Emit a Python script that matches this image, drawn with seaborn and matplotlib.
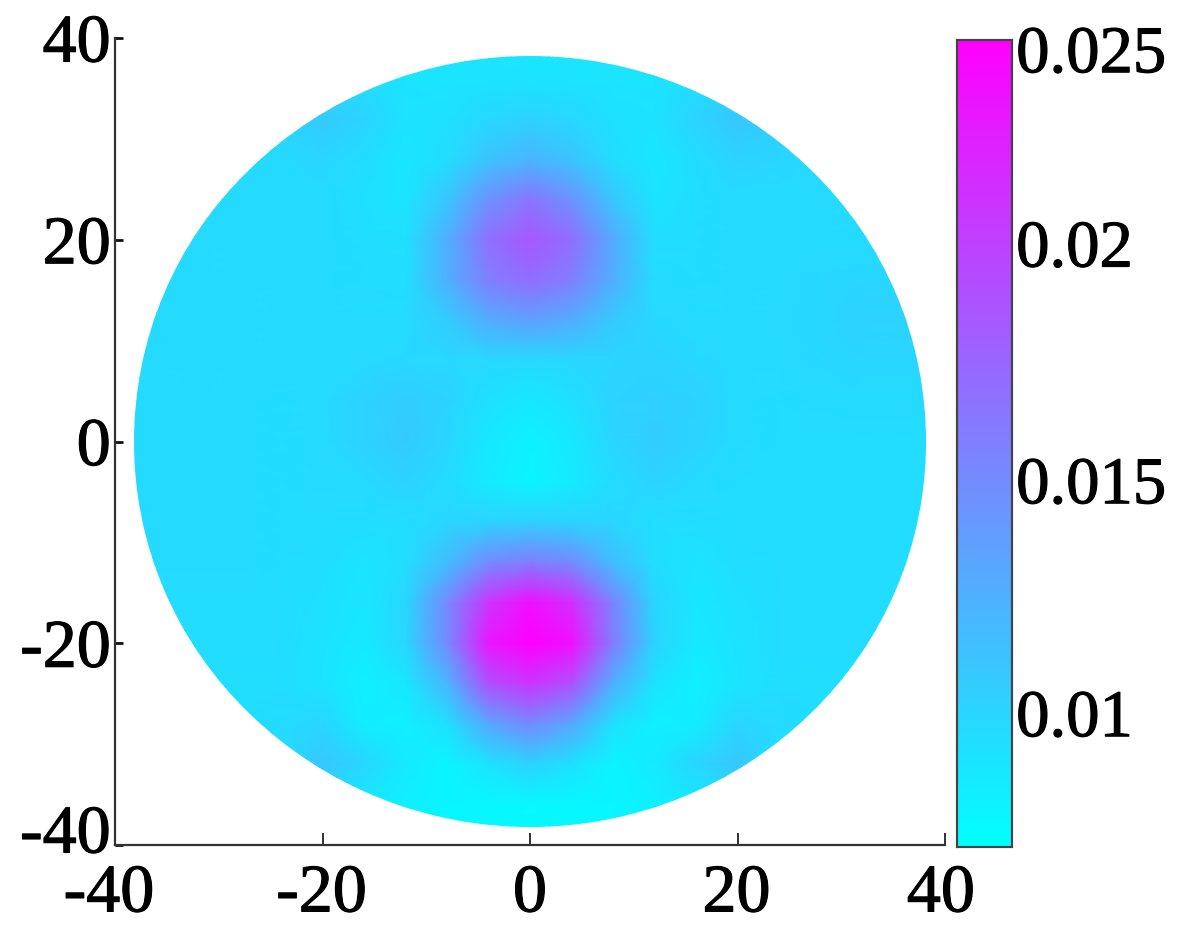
import matplotlib
matplotlib.use('Agg')
import numpy as np
import pandas as pd
import seaborn as sns
import matplotlib.pyplot as plt
import matplotlib.patheffects as pe
from matplotlib.patches import Circle
from matplotlib.transforms import ScaledTranslation

# axis positions of the grid, x left to right, y top to bottom
grid_x = [-40, -36, -32, -28, -24, -20, -16, -12, -8, -4, 0, 4, 8, 12, 16, 20, 24, 28, 32, 36, 40]
grid_y = [40, 36, 32, 28, 24, 20, 16, 12, 8, 4, 0, -4, -8, -12, -16, -20, -24, -28, -32, -36, -40]

# values, in units of 0.001
values_milli = [
    [8.8, 8.8, 8.8, 8.8, 8.8, 8.8, 8.8, 8.8, 8.8, 8.8, 8.7, 8.8, 8.8, 8.8, 8.8, 8.8, 8.8, 8.8, 8.8, 8.8, 8.8],
    [9.0, 9.0, 9.0, 9.0, 9.0, 9.3, 9.2, 8.8, 8.8, 8.8, 8.7, 8.8, 8.8, 8.8, 9.2, 9.3, 9.0, 9.0, 9.0, 9.0, 9.0],
    [9.2, 9.2, 9.2, 9.2, 9.6, 10.6, 9.9, 8.9, 9.0, 9.6, 10.0, 9.6, 9.0, 8.9, 9.9, 10.8, 10.2, 9.2, 9.2, 9.2, 9.2],
    [9.4, 9.4, 9.4, 9.4, 9.5, 9.8, 9.3, 8.6, 9.3, 11.0, 12.0, 11.0, 9.3, 8.6, 9.3, 10.0, 9.8, 9.4, 9.4, 9.4, 9.4],
    [9.4, 9.4, 9.4, 9.4, 9.4, 9.4, 9.1, 8.7, 10.8, 14.5, 16.5, 14.5, 10.8, 8.8, 9.2, 9.4, 9.4, 9.4, 9.4, 9.4, 9.4],
    [9.4, 9.4, 9.4, 9.4, 9.4, 9.4, 9.2, 9.1, 12.5, 16.8, 18.5, 17.0, 12.8, 9.2, 9.3, 9.4, 9.4, 9.5, 9.5, 9.5, 9.5],
    [9.5, 9.5, 9.5, 9.5, 9.4, 9.4, 9.3, 9.2, 12.3, 15.8, 17.0, 15.8, 12.5, 9.4, 9.3, 9.4, 9.5, 9.6, 9.8, 9.8, 9.8],
    [9.5, 9.5, 9.5, 9.5, 9.4, 9.4, 9.4, 9.4, 10.4, 12.6, 13.5, 12.6, 10.6, 9.6, 9.4, 9.4, 9.5, 9.7, 10.0, 10.0, 10.0],
    [9.5, 9.5, 9.5, 9.5, 9.4, 9.4, 9.5, 9.6, 9.6, 9.6, 9.5, 9.7, 9.8, 9.9, 9.6, 9.4, 9.4, 9.6, 9.8, 9.8, 9.8],
    [9.4, 9.4, 9.4, 9.4, 9.3, 9.5, 10.0, 10.4, 10.0, 9.0, 8.5, 9.0, 10.0, 10.2, 10.0, 9.4, 9.3, 9.4, 9.5, 9.5, 9.5],
    [9.4, 9.4, 9.4, 9.4, 9.3, 9.5, 10.0, 10.5, 9.8, 8.5, 7.8, 8.5, 9.8, 10.4, 9.9, 9.4, 9.3, 9.3, 9.3, 9.3, 9.3],
    [9.4, 9.4, 9.4, 9.4, 9.3, 9.4, 9.5, 10.0, 9.4, 8.3, 7.7, 8.3, 9.4, 9.9, 9.5, 9.3, 9.3, 9.3, 9.3, 9.3, 9.3],
    [9.4, 9.4, 9.4, 9.4, 9.3, 9.3, 9.2, 9.2, 9.8, 10.0, 10.2, 10.0, 9.8, 9.2, 9.2, 9.3, 9.3, 9.3, 9.3, 9.3, 9.3],
    [9.4, 9.4, 9.4, 9.4, 9.3, 9.2, 8.8, 9.2, 11.5, 15.0, 16.0, 15.0, 11.5, 9.2, 8.8, 9.2, 9.3, 9.3, 9.3, 9.3, 9.3],
    [9.3, 9.3, 9.3, 9.3, 9.3, 9.0, 8.6, 9.8, 15.0, 21.0, 23.5, 21.5, 15.5, 9.8, 8.6, 9.0, 9.3, 9.3, 9.3, 9.3, 9.3],
    [9.3, 9.3, 9.3, 9.3, 9.3, 8.9, 8.4, 9.7, 15.0, 23.0, 25.0, 23.5, 16.0, 10.0, 8.4, 8.9, 9.3, 9.3, 9.3, 9.3, 9.3],
    [9.2, 9.2, 9.2, 9.2, 9.2, 8.8, 8.0, 8.6, 12.0, 19.0, 21.0, 19.0, 12.5, 8.8, 8.0, 8.8, 9.2, 9.2, 9.2, 9.2, 9.2],
    [9.2, 9.2, 9.2, 9.2, 9.4, 9.8, 8.2, 8.0, 9.0, 13.0, 15.0, 13.0, 9.0, 8.0, 8.2, 9.8, 9.5, 9.2, 9.2, 9.2, 9.2],
    [9.0, 9.0, 9.0, 9.0, 9.0, 10.8, 9.8, 8.4, 7.6, 8.8, 10.0, 9.0, 7.7, 8.4, 9.8, 10.9, 9.0, 9.0, 9.0, 9.0, 9.0],
    [8.6, 8.6, 8.6, 8.6, 8.6, 8.6, 8.4, 8.0, 7.6, 7.5, 7.4, 7.5, 7.6, 8.0, 8.4, 8.6, 8.6, 8.6, 8.6, 8.6, 8.6],
    [8.4, 8.4, 8.4, 8.4, 8.4, 8.2, 8.0, 7.8, 7.5, 7.4, 7.3, 7.4, 7.5, 7.8, 8.0, 8.2, 8.4, 8.4, 8.4, 8.4, 8.4],
]

axis_ticks = [-40, -20, 0, 20, 40]
axis_labels = ['-40', '-20', '0', '20', '40']
cbar_ticks = [0.01, 0.015, 0.0203, 0.0243]
cbar_labels = ['0.01', '0.015', '0.02', '0.025']
disc_radius = 38.2

sns.set_theme(style='ticks')
plt.rcParams['font.family'] = ['Liberation Serif', 'DejaVu Serif']

W, H = 1195, 944
fig = plt.figure(figsize=(W / 100, H / 100), dpi=100)
ax = fig.add_axes([115 / W, 1 - 845 / H, 830 / W, 807 / H])
cax = fig.add_axes([957 / W, 1 - 847 / H, 55 / W, 807 / H])

df = pd.DataFrame(np.array(values_milli) / 1000, index=grid_y, columns=grid_x)
sns.heatmap(df, ax=ax, cbar_ax=cax, cmap='cool', vmin=0.0069, vmax=0.0246,
            shading='gouraud', xticklabels=False, yticklabels=False)

# gouraud puts the values on the index positions 0..20
step = grid_x[1] - grid_x[0]
ax.set_xlim(0, len(grid_x) - 1)
ax.set_ylim(len(grid_y) - 1, 0)
ax.collections[0].set_clip_path(
    Circle((10, 10), disc_radius / step, transform=ax.transData))

ax.set_xticks([(t - grid_x[0]) / step for t in axis_ticks], labels=axis_labels)
ax.set_yticks([(grid_y[0] - t) / step for t in axis_ticks], labels=axis_labels, rotation=0)
ax.tick_params(axis='x', direction='in', length=8.5, width=1.3, color='#222222',
               labelsize=49, pad=14, labelcolor='black', bottom=True)
ax.tick_params(axis='y', direction='in', length=6, width=2, color='#111111',
               labelsize=49, pad=3, labelcolor='black', left=True)
for side in ['left', 'bottom']:
    ax.spines[side].set_visible(True)
    ax.spines[side].set_linewidth(1.6)
    ax.spines[side].set_color('#333333')
sns.despine(ax=ax)


def nudge(lab, dx, dy):
    lab.set_transform(lab.get_transform() + ScaledTranslation(dx / 100, dy / 100, fig.dpi_scale_trans))


# the printed labels do not sit exactly on their ticks
nudge(ax.get_yticklabels()[0], 0, 16)
for lab, shift in zip(ax.get_xticklabels(), [-6, -1, 0, -1, -4]):
    nudge(lab, shift, 0)

cax.yaxis.tick_right()
cax.set_yticks(cbar_ticks, labels=cbar_labels)
cax.tick_params(axis='y', direction='in', length=6, width=2, color='#111111', left=True, right=True,
                labelsize=48, pad=3, labelcolor='black')
for lab, shift in zip(cax.get_yticklabels(), [-7, -2, -7, 5]):
    nudge(lab, 0, shift)
for spine in cax.spines.values():
    spine.set_visible(True)
    spine.set_linewidth(1.5)
    spine.set_color('#444444')

# the reference digits are a bit heavier than the plain font
for lab in ax.get_xticklabels() + ax.get_yticklabels() + cax.get_yticklabels():
    lab.set_path_effects([pe.withStroke(linewidth=0.8, foreground='black')])

fig.savefig('out.png', dpi=100)
